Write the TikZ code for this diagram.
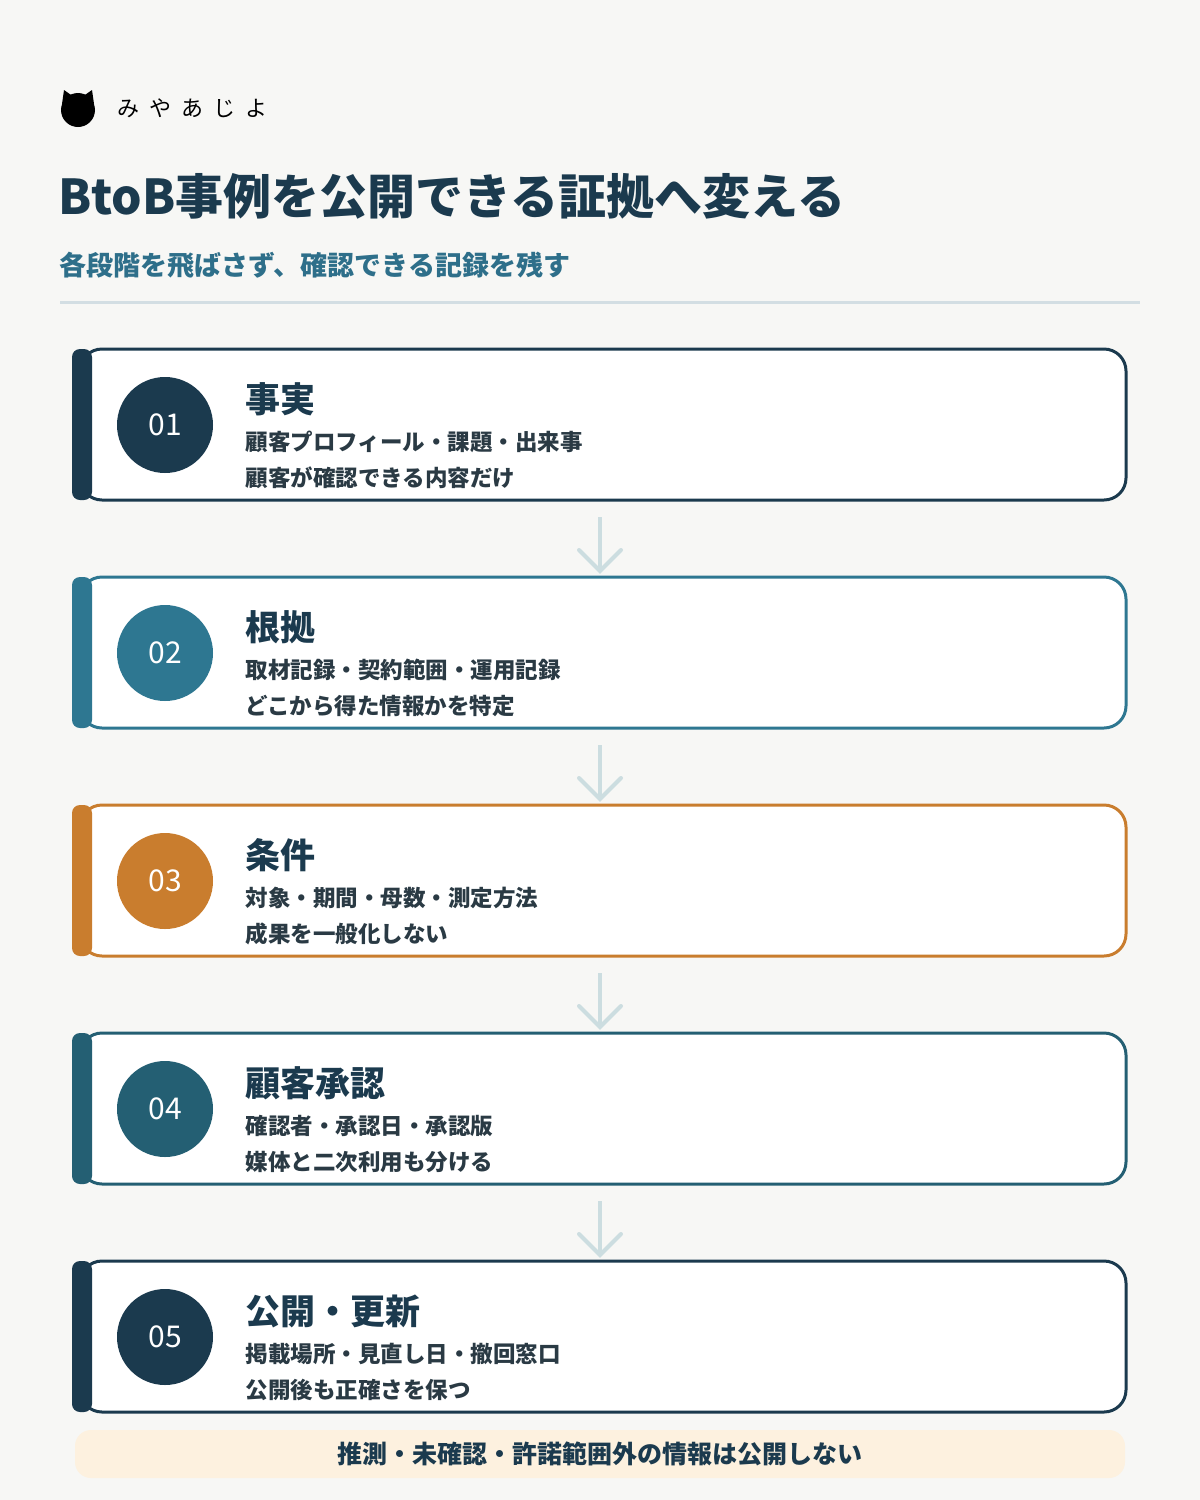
\documentclass[tikz,border=0pt]{standalone}
\usepackage{fontspec}
\setmainfont{Noto Sans CJK JP}
\usetikzlibrary{calc}
\definecolor{bg}{HTML}{F7F7F5}
\definecolor{navy}{HTML}{1B3A4E}
\definecolor{teal}{HTML}{2E7791}
\definecolor{ora}{HTML}{C97D2E}
\definecolor{mid}{HTML}{245F73}
\definecolor{sub}{HTML}{2E6F8A}
\definecolor{arr}{HTML}{CCDDE0}
\definecolor{sep}{HTML}{D3DEE3}
\definecolor{note}{HTML}{FDF1DF}
\definecolor{txt}{HTML}{2A3A44}
\tikzset{
 card/.style={draw=#1,line width=3pt,fill=white,rounded corners=22pt},
 num/.style={circle,fill=#1,minimum size=96pt,inner sep=0pt,text=white,font=\fontsize{30}{32}\selectfont},
 ttl/.style={anchor=west,text=navy,font=\fontsize{35}{38}\selectfont\bfseries},
 body/.style={anchor=west,text=txt,font=\fontsize{22.5}{24}\selectfont\bfseries},
 dn/.style={draw=arr,line width=4pt}
}
\begin{document}
\begin{tikzpicture}[x=1pt,y=-1pt]
\useasboundingbox[fill=bg] (0,0) rectangle (1200,1500);
% logo
\node[circle,fill=black,minimum size=34pt,inner sep=0pt] (cat) at (78,110) {};
\fill[black] (62,104) -- (64,90) -- (74,97) -- cycle;
\fill[black] (94,104) -- (92,90) -- (82,97) -- cycle;
\node[anchor=west,font=\fontsize{22}{24}\selectfont] (brand) at (114,108) {み\hspace{10pt}や\hspace{10pt}あ\hspace{10pt}じ\hspace{10pt}よ};
\node[anchor=west,text=navy,font=\fontsize{48}{52}\selectfont\bfseries] (title) at (55,196) {BtoB事例を公開できる証拠へ変える};
\node[anchor=west,text=sub,font=\fontsize{27}{29}\selectfont\bfseries] (subt) at (56,265) {各段階を飛ばさず、確認できる記録を残す};
\draw[sep,line width=3pt] (60,302) -- (1140,302);
% cards
\foreach \i/\y/\c/\n/\t/\a/\b in {
 1/349/navy/01/事実/顧客プロフィール・課題・出来事/顧客が確認できる内容だけ,
 2/577/teal/02/根拠/取材記録・契約範囲・運用記録/どこから得た情報かを特定,
 3/805/ora/03/条件/対象・期間・母数・測定方法/成果を一般化しない,
 4/1033/mid/04/顧客承認/確認者・承認日・承認版/媒体と二次利用も分ける,
 5/1261/navy/05/公開・更新/掲載場所・見直し日・撤回窓口/公開後も正確さを保つ}{
 \draw[card=\c] (80,\y) rectangle (1126,\y+151);
 \fill[\c,rounded corners=8pt] (72,\y) rectangle (92,\y+151);
 \node[num=\c] (n\i) at (165,\y+76) {\n};
 \node[ttl] (t\i) at (242,\y+50) {\t};
 \node[body] (a\i) at (242,\y+93) {\a};
 \node[body] (b\i) at (242,\y+129) {\b};
}
\foreach \i/\y in {1/517,2/745,3/973,4/1201}{
 \coordinate (s\i) at (600,\y);
 \coordinate (e\i) at (600,\y+54);
 \draw[dn] (s\i) -- (e\i);
 \draw[dn,line cap=round] ($(e\i)+(-21,-21)$) -- (e\i) -- ($(e\i)+(21,-21)$);
}
\fill[note,rounded corners=16pt] (75,1430) rectangle (1125,1478);
\node[text=navy,font=\fontsize{25}{27}\selectfont\bfseries] (nt) at (600,1454) {推測・未確認・許諾範囲外の情報は公開しない};
\end{tikzpicture}
\end{document}
